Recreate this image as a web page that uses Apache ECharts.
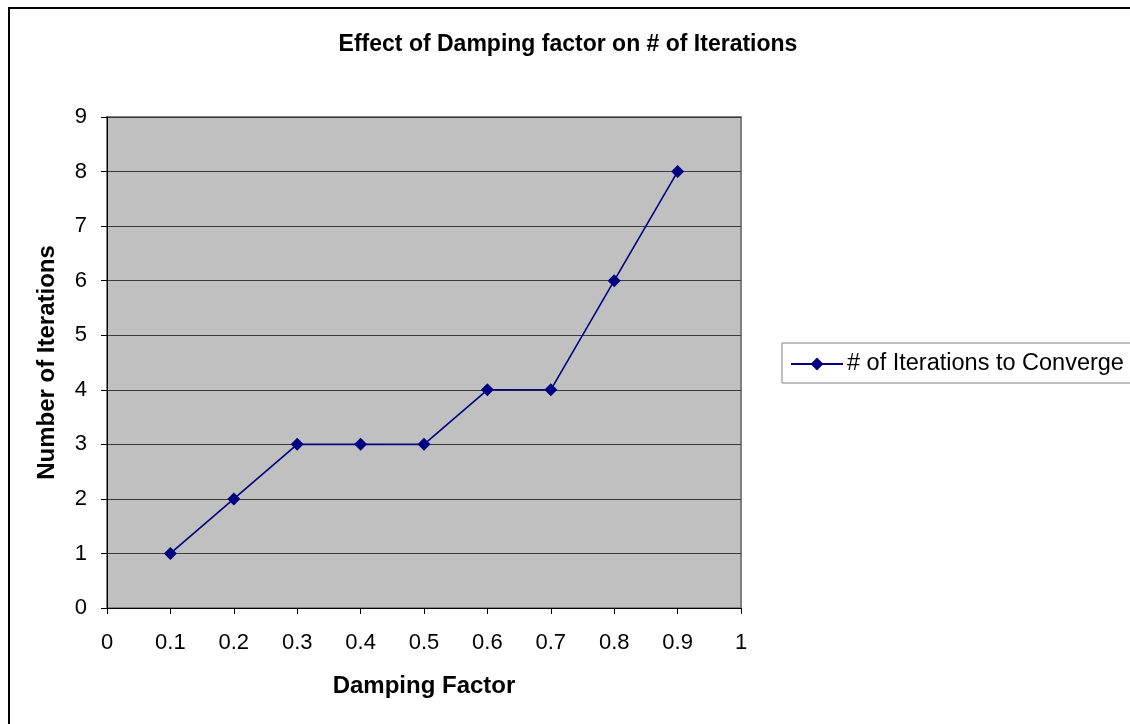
<!DOCTYPE html>
<html>
<head>
<meta charset="utf-8">
<script src="https://cdn.jsdelivr.net/npm/echarts@6/dist/echarts.min.js"></script>
<style>
  html, body { margin: 0; padding: 0; background: #fff; }
  #frame { position: absolute; left: 8px; top: 7px; width: 1140px; height: 740px;
           border-left: 2px solid #000; border-top: 2px solid #000; }
  #chart { position: absolute; left: 0; top: 0; width: 1130px; height: 724px; }
</style>
</head>
<body>
<div id="frame"></div>
<div id="chart"></div>
<script>
// Damping factor vs iterations needed to converge
const dampingFactors = [0.1, 0.2, 0.3, 0.4, 0.5, 0.6, 0.7, 0.8, 0.9];
const iterations = [1, 2, 3, 3, 3, 4, 4, 6, 8];
const seriesName = '# of Iterations to Converge';
const chartTitle = 'Effect of Damping factor on # of Iterations';
const xAxisName = 'Damping Factor';
const yAxisName = 'Number of Iterations';

const font = 'Liberation Sans, Arial, sans-serif';
const chart = echarts.init(document.getElementById('chart'), null, { renderer: 'canvas' });

chart.setOption({
  backgroundColor: 'transparent',
  animation: false,
  title: {
    text: chartTitle,
    left: 563, top: 28, textAlign: 'center',
    textStyle: { fontFamily: font, fontSize: 23, fontWeight: 'bold', color: '#000' }
  },
  legend: {
    left: 782, top: 343,
    orient: 'vertical',
    itemWidth: 52, itemHeight: 16,
    itemGap: 0,
    padding: [9, 12, 7, 8],
    borderColor: '#808080', borderWidth: 1,
    backgroundColor: '#fff',
    textStyle: { fontFamily: font, fontSize: 23.5, color: '#000', padding: [0, 0, 0, -1] },
    data: [seriesName]
  },
  grid: {
    left: 107, top: 117, width: 634, height: 491,
    show: true, backgroundColor: '#c0c0c0',
    borderColor: '#808080', borderWidth: 2,
    containLabel: false, outerBoundsMode: 'none'
  },
  xAxis: {
    type: 'value', min: 0, max: 1, interval: 0.1,
    name: xAxisName, nameLocation: 'middle', nameGap: 66,
    nameTextStyle: { fontFamily: font, fontSize: 24, fontWeight: 'bold', color: '#000' },
    axisLine: { show: true, onZero: false, lineStyle: { color: '#000', width: 1 } },
    axisTick: { show: true, inside: false, length: 6, lineStyle: { color: '#000' } },
    axisLabel: { fontFamily: font, fontSize: 22, color: '#000', margin: 24,
                 formatter: v => String(Math.round(v * 10) / 10) },
    splitLine: { show: false }
  },
  yAxis: {
    type: 'value', min: 0, max: 9, interval: 1,
    name: yAxisName, nameLocation: 'middle', nameGap: 48, nameRotate: 90,
    nameTextStyle: { fontFamily: font, fontSize: 24, fontWeight: 'bold', color: '#000' },
    axisLine: { show: true, onZero: false, lineStyle: { color: '#000', width: 1 } },
    axisTick: { show: true, inside: false, length: 6, lineStyle: { color: '#000' } },
    axisLabel: { fontFamily: font, fontSize: 22, color: '#000', margin: 20 },
    splitLine: { show: true, lineStyle: { color: '#3a3a3a', width: 1 } }
  },
  series: [{
    name: seriesName,
    type: 'line',
    data: dampingFactors.map((x, i) => [x, iterations[i]]),
    symbol: 'diamond', symbolSize: [13, 13],
    showAllSymbol: true,
    lineStyle: { color: '#000080', width: 1.6 },
    itemStyle: { color: '#000080' }
  }]
});
</script>
</body>
</html>
